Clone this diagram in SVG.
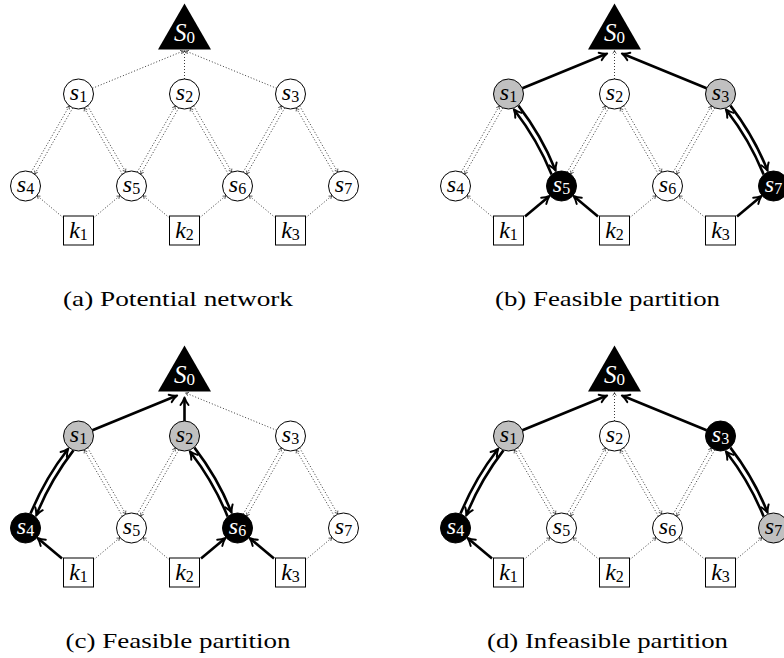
<svg xmlns="http://www.w3.org/2000/svg" width="784" height="658" viewBox="0 0 784 658">
<defs>
<marker id="ah" markerUnits="userSpaceOnUse" orient="auto" overflow="visible" refX="-2" refY="0" markerWidth="1" markerHeight="1">
<path d="M-7.5,-4 C-5,-2 -2,-0.6 0,0 C-2,0.6 -5,2 -7.5,4" fill="none" stroke="#000" stroke-width="2" stroke-linecap="round" stroke-linejoin="round"/>
</marker>
<marker id="ahs" markerUnits="userSpaceOnUse" orient="auto" overflow="visible" refX="0" refY="0" markerWidth="1" markerHeight="1">
<path d="M-3,-1.8 C-2,-0.8 -0.8,-0.2 0,0 C-0.8,0.2 -2,0.8 -3,1.8" fill="none" stroke="#222" stroke-width="0.7"/>
</marker>
</defs>
<style>
.dot{fill:none;stroke:#222;stroke-width:0.9;stroke-dasharray:1 2;marker-end:url(#ahs)}
.thk{fill:none;stroke:#000;stroke-width:2.6;marker-end:url(#ah)}
.c{stroke:#000;stroke-width:1}
.w{fill:#fff}.g{fill:#c0c0c0}.b{fill:#000}
.box{fill:#fff;stroke:#000;stroke-width:1}
.lbl{font-family:"Liberation Serif","Times New Roman",serif;font-size:24px;text-anchor:middle;fill:#000}
.lbl.wt{fill:#fff}
.v{font-style:italic}
.sub{font-size:16px}
.big{font-size:25px}
.big .sub{font-size:17px}
.cap{font-family:"Liberation Serif","Times New Roman",serif;font-size:22px;fill:#000}
</style>

<!-- Panel (a) -->
<g id="panel-a">
<g id="a-edges">
<path class="dot" d="M92.4,88.3 L183.5,50.9"/>
<path class="dot" d="M184.5,79 L184.5,50.5"/>
<path class="dot" d="M276.6,88.3 L185.5,50.9"/>
<path class="dot" d="M31.19,172.12 L69.34,105.89"/><path class="dot" d="M72.81,107.88 L34.65,174.12"/>
<path class="dot" d="M87.66,105.89 L125.81,172.12"/><path class="dot" d="M122.34,174.11 L84.19,107.88"/>
<path class="dot" d="M137.19,172.12 L175.34,105.89"/><path class="dot" d="M178.81,107.88 L140.65,174.12"/>
<path class="dot" d="M193.66,105.89 L231.81,172.12"/><path class="dot" d="M228.34,174.11 L190.19,107.88"/>
<path class="dot" d="M243.19,172.12 L281.34,105.89"/><path class="dot" d="M284.81,107.88 L246.65,174.12"/>
<path class="dot" d="M299.66,105.89 L337.81,172.12"/><path class="dot" d="M334.34,174.11 L296.19,107.88"/>
<path class="dot" d="M63.5,217.9 L37,195.6"/><path class="dot" d="M93.5,217.9 L120,195.6"/>
<path class="dot" d="M169.5,217.9 L143,195.6"/><path class="dot" d="M199.5,217.9 L226,195.6"/>
<path class="dot" d="M275.5,217.9 L249,195.6"/><path class="dot" d="M305.5,217.9 L332,195.6"/>
</g>
<g id="a-S0"><polygon class="b" points="184.5,3.6 158,49.5 211,49.5"/><text class="lbl big wt" x="184.5" y="41"><tspan class="v">S</tspan><tspan class="sub" dy="2">0</tspan></text></g>
<g id="a-s1"><circle class="c w" cx="78.5" cy="94" r="15"/><text class="lbl" x="78.5" y="99.5"><tspan class="v">s</tspan><tspan class="sub" dy="2.5">1</tspan></text></g>
<g id="a-s2"><circle class="c w" cx="184.5" cy="94" r="15"/><text class="lbl" x="184.5" y="99.5"><tspan class="v">s</tspan><tspan class="sub" dy="2.5">2</tspan></text></g>
<g id="a-s3"><circle class="c w" cx="290.5" cy="94" r="15"/><text class="lbl" x="290.5" y="99.5"><tspan class="v">s</tspan><tspan class="sub" dy="2.5">3</tspan></text></g>
<g id="a-s4"><circle class="c w" cx="25.5" cy="186" r="15"/><text class="lbl" x="25.5" y="191.5"><tspan class="v">s</tspan><tspan class="sub" dy="2.5">4</tspan></text></g>
<g id="a-s5"><circle class="c w" cx="131.5" cy="186" r="15"/><text class="lbl" x="131.5" y="191.5"><tspan class="v">s</tspan><tspan class="sub" dy="2.5">5</tspan></text></g>
<g id="a-s6"><circle class="c w" cx="237.5" cy="186" r="15"/><text class="lbl" x="237.5" y="191.5"><tspan class="v">s</tspan><tspan class="sub" dy="2.5">6</tspan></text></g>
<g id="a-s7"><circle class="c w" cx="343.5" cy="186" r="15"/><text class="lbl" x="343.5" y="191.5"><tspan class="v">s</tspan><tspan class="sub" dy="2.5">7</tspan></text></g>
<g id="a-k1"><rect class="box" x="63.5" y="216" width="30" height="29"/><text class="lbl" x="78.5" y="238"><tspan class="v">k</tspan><tspan class="sub" dy="2">1</tspan></text></g>
<g id="a-k2"><rect class="box" x="169.5" y="216" width="30" height="29"/><text class="lbl" x="184.5" y="238"><tspan class="v">k</tspan><tspan class="sub" dy="2">2</tspan></text></g>
<g id="a-k3"><rect class="box" x="275.5" y="216" width="30" height="29"/><text class="lbl" x="290.5" y="238"><tspan class="v">k</tspan><tspan class="sub" dy="2">3</tspan></text></g>
<text id="a-caption" class="cap" x="63" y="306" textLength="230" lengthAdjust="spacingAndGlyphs">(a) Potential network</text>
</g>

<!-- Panel (b) -->
<g id="panel-b" transform="translate(430,0)">
<g id="b-edges">
<path class="thk" d="M92.4,88.3 L175.3,54.3"/>
<path class="dot" d="M184.5,79 L184.5,50.5"/>
<path class="thk" d="M276.6,88.3 L193.7,54.3"/>
<path class="dot" d="M31.19,172.12 L69.34,105.89"/><path class="dot" d="M72.81,107.88 L34.65,174.12"/>
<path class="thk" d="M88.42,105.6 Q111.51,135.67 124.94,169.01"/><path class="thk" d="M121.58,174.4 Q107.15,139.33 85.06,110.99"/>
<path class="dot" d="M137.19,172.12 L175.34,105.89"/><path class="dot" d="M178.81,107.88 L140.65,174.12"/>
<path class="dot" d="M193.66,105.89 L231.81,172.12"/><path class="dot" d="M228.34,174.11 L190.19,107.88"/>
<path class="dot" d="M243.19,172.12 L281.34,105.89"/><path class="dot" d="M284.81,107.88 L246.65,174.12"/>
<path class="thk" d="M300.42,105.6 Q323.51,135.67 336.94,169.01"/><path class="thk" d="M333.58,174.4 Q319.15,139.33 297.06,110.99"/>
<path class="dot" d="M63.5,217.9 L37,195.6"/><path class="thk" d="M95,216.5 L118,197.3"/>
<path class="thk" d="M168,216.5 L145,197.3"/><path class="dot" d="M199.5,217.9 L226,195.6"/>
<path class="dot" d="M275.5,217.9 L249,195.6"/><path class="thk" d="M307,216.5 L330,197.3"/>
</g>
<g id="b-S0"><polygon class="b" points="184.5,3.6 158,49.5 211,49.5"/><text class="lbl big wt" x="184.5" y="41"><tspan class="v">S</tspan><tspan class="sub" dy="2">0</tspan></text></g>
<g id="b-s1"><circle class="c g" cx="78.5" cy="94" r="15"/><text class="lbl" x="78.5" y="99.5"><tspan class="v">s</tspan><tspan class="sub" dy="2.5">1</tspan></text></g>
<g id="b-s2"><circle class="c w" cx="184.5" cy="94" r="15"/><text class="lbl" x="184.5" y="99.5"><tspan class="v">s</tspan><tspan class="sub" dy="2.5">2</tspan></text></g>
<g id="b-s3"><circle class="c g" cx="290.5" cy="94" r="15"/><text class="lbl" x="290.5" y="99.5"><tspan class="v">s</tspan><tspan class="sub" dy="2.5">3</tspan></text></g>
<g id="b-s4"><circle class="c w" cx="25.5" cy="186" r="15"/><text class="lbl" x="25.5" y="191.5"><tspan class="v">s</tspan><tspan class="sub" dy="2.5">4</tspan></text></g>
<g id="b-s5"><circle class="c b" cx="131.5" cy="186" r="15"/><text class="lbl wt" x="131.5" y="191.5"><tspan class="v">s</tspan><tspan class="sub" dy="2.5">5</tspan></text></g>
<g id="b-s6"><circle class="c w" cx="237.5" cy="186" r="15"/><text class="lbl" x="237.5" y="191.5"><tspan class="v">s</tspan><tspan class="sub" dy="2.5">6</tspan></text></g>
<g id="b-s7"><circle class="c b" cx="343.5" cy="186" r="15"/><text class="lbl wt" x="343.5" y="191.5"><tspan class="v">s</tspan><tspan class="sub" dy="2.5">7</tspan></text></g>
<g id="b-k1"><rect class="box" x="63.5" y="216" width="30" height="29"/><text class="lbl" x="78.5" y="238"><tspan class="v">k</tspan><tspan class="sub" dy="2">1</tspan></text></g>
<g id="b-k2"><rect class="box" x="169.5" y="216" width="30" height="29"/><text class="lbl" x="184.5" y="238"><tspan class="v">k</tspan><tspan class="sub" dy="2">2</tspan></text></g>
<g id="b-k3"><rect class="box" x="275.5" y="216" width="30" height="29"/><text class="lbl" x="290.5" y="238"><tspan class="v">k</tspan><tspan class="sub" dy="2">3</tspan></text></g>
<text id="b-caption" class="cap" x="65" y="306" textLength="225" lengthAdjust="spacingAndGlyphs">(b) Feasible partition</text>
</g>

<!-- Panel (c) -->
<g id="panel-c" transform="translate(0,342)">
<g id="c-edges">
<path class="thk" d="M92.4,88.3 L175.3,54.3"/>
<path class="thk" d="M184.5,79 L184.5,57.5"/>
<path class="dot" d="M276.6,88.3 L185.5,50.9"/>
<path class="thk" d="M30.56,171.6 Q44.99,136.53 67.08,108.19"/><path class="thk" d="M73.44,108.4 Q50.35,138.47 36.92,171.81"/>
<path class="dot" d="M87.66,105.89 L125.81,172.12"/><path class="dot" d="M122.34,174.11 L84.19,107.88"/>
<path class="dot" d="M137.19,172.12 L175.34,105.89"/><path class="dot" d="M178.81,107.88 L140.65,174.12"/>
<path class="thk" d="M194.42,105.6 Q217.51,135.67 230.94,169.01"/><path class="thk" d="M227.58,174.4 Q213.15,139.33 191.06,110.99"/>
<path class="dot" d="M243.19,172.12 L281.34,105.89"/><path class="dot" d="M284.81,107.88 L246.65,174.12"/>
<path class="dot" d="M299.66,105.89 L337.81,172.12"/><path class="dot" d="M334.34,174.11 L296.19,107.88"/>
<path class="thk" d="M62,216.5 L39,197.3"/><path class="dot" d="M93.5,217.9 L120,195.6"/>
<path class="dot" d="M169.5,217.9 L143,195.6"/><path class="thk" d="M201,216.5 L224,197.3"/>
<path class="thk" d="M274,216.5 L251,197.3"/><path class="dot" d="M305.5,217.9 L332,195.6"/>
</g>
<g id="c-S0"><polygon class="b" points="184.5,3.6 158,49.5 211,49.5"/><text class="lbl big wt" x="184.5" y="41"><tspan class="v">S</tspan><tspan class="sub" dy="2">0</tspan></text></g>
<g id="c-s1"><circle class="c g" cx="78.5" cy="94" r="15"/><text class="lbl" x="78.5" y="99.5"><tspan class="v">s</tspan><tspan class="sub" dy="2.5">1</tspan></text></g>
<g id="c-s2"><circle class="c g" cx="184.5" cy="94" r="15"/><text class="lbl" x="184.5" y="99.5"><tspan class="v">s</tspan><tspan class="sub" dy="2.5">2</tspan></text></g>
<g id="c-s3"><circle class="c w" cx="290.5" cy="94" r="15"/><text class="lbl" x="290.5" y="99.5"><tspan class="v">s</tspan><tspan class="sub" dy="2.5">3</tspan></text></g>
<g id="c-s4"><circle class="c b" cx="25.5" cy="186" r="15"/><text class="lbl wt" x="25.5" y="191.5"><tspan class="v">s</tspan><tspan class="sub" dy="2.5">4</tspan></text></g>
<g id="c-s5"><circle class="c w" cx="131.5" cy="186" r="15"/><text class="lbl" x="131.5" y="191.5"><tspan class="v">s</tspan><tspan class="sub" dy="2.5">5</tspan></text></g>
<g id="c-s6"><circle class="c b" cx="237.5" cy="186" r="15"/><text class="lbl wt" x="237.5" y="191.5"><tspan class="v">s</tspan><tspan class="sub" dy="2.5">6</tspan></text></g>
<g id="c-s7"><circle class="c w" cx="343.5" cy="186" r="15"/><text class="lbl" x="343.5" y="191.5"><tspan class="v">s</tspan><tspan class="sub" dy="2.5">7</tspan></text></g>
<g id="c-k1"><rect class="box" x="63.5" y="216" width="30" height="29"/><text class="lbl" x="78.5" y="238"><tspan class="v">k</tspan><tspan class="sub" dy="2">1</tspan></text></g>
<g id="c-k2"><rect class="box" x="169.5" y="216" width="30" height="29"/><text class="lbl" x="184.5" y="238"><tspan class="v">k</tspan><tspan class="sub" dy="2">2</tspan></text></g>
<g id="c-k3"><rect class="box" x="275.5" y="216" width="30" height="29"/><text class="lbl" x="290.5" y="238"><tspan class="v">k</tspan><tspan class="sub" dy="2">3</tspan></text></g>
<text id="c-caption" class="cap" x="65.5" y="306" textLength="225" lengthAdjust="spacingAndGlyphs">(c) Feasible partition</text>
</g>

<!-- Panel (d) -->
<g id="panel-d" transform="translate(430,342)">
<g id="d-edges">
<path class="thk" d="M92.4,88.3 L175.3,54.3"/>
<path class="dot" d="M184.5,79 L184.5,50.5"/>
<path class="thk" d="M276.6,88.3 L193.7,54.3"/>
<path class="thk" d="M30.56,171.6 Q44.99,136.53 67.08,108.19"/><path class="thk" d="M73.44,108.4 Q50.35,138.47 36.92,171.81"/>
<path class="dot" d="M87.66,105.89 L125.81,172.12"/><path class="dot" d="M122.34,174.11 L84.19,107.88"/>
<path class="dot" d="M137.19,172.12 L175.34,105.89"/><path class="dot" d="M178.81,107.88 L140.65,174.12"/>
<path class="dot" d="M193.66,105.89 L231.81,172.12"/><path class="dot" d="M228.34,174.11 L190.19,107.88"/>
<path class="dot" d="M243.19,172.12 L281.34,105.89"/><path class="dot" d="M284.81,107.88 L246.65,174.12"/>
<path class="thk" d="M300.42,105.6 Q323.51,135.67 336.94,169.01"/><path class="thk" d="M333.58,174.4 Q319.15,139.33 297.06,110.99"/>
<path class="thk" d="M62,216.5 L39,197.3"/><path class="dot" d="M93.5,217.9 L120,195.6"/>
<path class="dot" d="M169.5,217.9 L143,195.6"/><path class="dot" d="M199.5,217.9 L226,195.6"/>
<path class="dot" d="M275.5,217.9 L249,195.6"/><path class="dot" d="M305.5,217.9 L332,195.6"/>
</g>
<g id="d-S0"><polygon class="b" points="184.5,3.6 158,49.5 211,49.5"/><text class="lbl big wt" x="184.5" y="41"><tspan class="v">S</tspan><tspan class="sub" dy="2">0</tspan></text></g>
<g id="d-s1"><circle class="c g" cx="78.5" cy="94" r="15"/><text class="lbl" x="78.5" y="99.5"><tspan class="v">s</tspan><tspan class="sub" dy="2.5">1</tspan></text></g>
<g id="d-s2"><circle class="c w" cx="184.5" cy="94" r="15"/><text class="lbl" x="184.5" y="99.5"><tspan class="v">s</tspan><tspan class="sub" dy="2.5">2</tspan></text></g>
<g id="d-s3"><circle class="c b" cx="290.5" cy="94" r="15"/><text class="lbl wt" x="290.5" y="99.5"><tspan class="v">s</tspan><tspan class="sub" dy="2.5">3</tspan></text></g>
<g id="d-s4"><circle class="c b" cx="25.5" cy="186" r="15"/><text class="lbl wt" x="25.5" y="191.5"><tspan class="v">s</tspan><tspan class="sub" dy="2.5">4</tspan></text></g>
<g id="d-s5"><circle class="c w" cx="131.5" cy="186" r="15"/><text class="lbl" x="131.5" y="191.5"><tspan class="v">s</tspan><tspan class="sub" dy="2.5">5</tspan></text></g>
<g id="d-s6"><circle class="c w" cx="237.5" cy="186" r="15"/><text class="lbl" x="237.5" y="191.5"><tspan class="v">s</tspan><tspan class="sub" dy="2.5">6</tspan></text></g>
<g id="d-s7"><circle class="c g" cx="343.5" cy="186" r="15"/><text class="lbl" x="343.5" y="191.5"><tspan class="v">s</tspan><tspan class="sub" dy="2.5">7</tspan></text></g>
<g id="d-k1"><rect class="box" x="63.5" y="216" width="30" height="29"/><text class="lbl" x="78.5" y="238"><tspan class="v">k</tspan><tspan class="sub" dy="2">1</tspan></text></g>
<g id="d-k2"><rect class="box" x="169.5" y="216" width="30" height="29"/><text class="lbl" x="184.5" y="238"><tspan class="v">k</tspan><tspan class="sub" dy="2">2</tspan></text></g>
<g id="d-k3"><rect class="box" x="275.5" y="216" width="30" height="29"/><text class="lbl" x="290.5" y="238"><tspan class="v">k</tspan><tspan class="sub" dy="2">3</tspan></text></g>
<text id="d-caption" class="cap" x="57" y="306" textLength="241" lengthAdjust="spacingAndGlyphs">(d) Infeasible partition</text>
</g>
</svg>
